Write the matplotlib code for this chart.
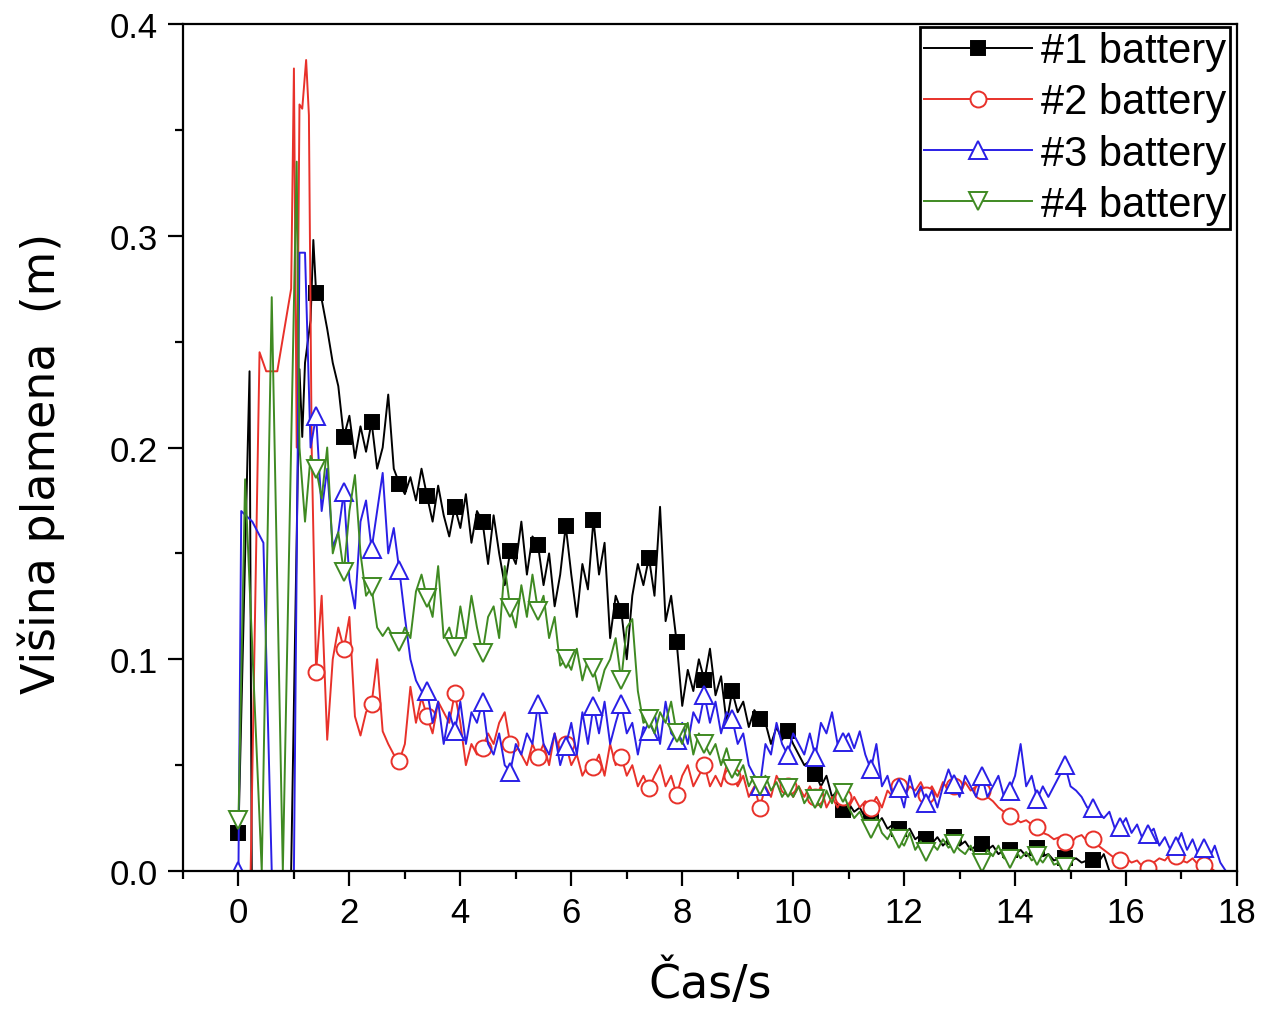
import numpy as np
import matplotlib
matplotlib.use("Agg")
import matplotlib.pyplot as plt
from matplotlib.ticker import MultipleLocator

# ---- data (time in s, flame height in m) ----
# sparse start of each record, then regular 0.1 s samples from 1.4 s on
b1_t0 = [0.0, 0.2, 0.24, 0.95, 1.1, 1.15, 1.2, 1.3, 1.35]
b1_v0 = [0.018, 0.236, 0.0, 0.0, 0.237, 0.205, 0.24, 0.26, 0.298]
b1_v = [
    0.273, 0.27, 0.256, 0.24, 0.229, 0.205, 0.215, 0.195, 0.21, 0.198,
    0.212, 0.19, 0.2, 0.225, 0.19, 0.183, 0.178, 0.186, 0.175, 0.19,
    0.177, 0.165, 0.182, 0.168, 0.158, 0.172, 0.162, 0.178, 0.155, 0.17,
    0.165, 0.145, 0.168, 0.15, 0.135, 0.151, 0.145, 0.165, 0.14, 0.158,
    0.154, 0.135, 0.15, 0.125, 0.14, 0.163, 0.14, 0.12, 0.145, 0.133,
    0.166, 0.14, 0.155, 0.11, 0.13, 0.123, 0.1, 0.13, 0.145, 0.135,
    0.148, 0.13, 0.172, 0.118, 0.13, 0.108, 0.078, 0.095, 0.085, 0.1,
    0.09, 0.105, 0.083, 0.092, 0.07, 0.085, 0.075, 0.08, 0.068, 0.076,
    0.072, 0.07, 0.06, 0.068, 0.062, 0.066, 0.06, 0.055, 0.05, 0.052,
    0.046, 0.04, 0.045, 0.035, 0.038, 0.029, 0.032, 0.028, 0.03, 0.025,
    0.028, 0.022, 0.025, 0.02, 0.022, 0.02, 0.018, 0.02, 0.015, 0.017,
    0.015, 0.013, 0.016, 0.012, 0.015, 0.016, 0.012, 0.014, 0.01, 0.012,
    0.013, 0.01, 0.012, 0.008, 0.01, 0.01, 0.008, 0.01, 0.007, 0.009,
    0.011, 0.007, 0.008, 0.005, 0.006, 0.006, 0.005, 0.006, 0.004, 0.005,
    0.005, 0.004, 0.008, 0.0,
]

b2_t0 = [0.0, 0.22, 0.38, 0.5, 0.7, 0.95, 1.0, 1.05, 1.1, 1.15, 1.22, 1.27, 1.32]
b2_v0 = [0.0, 0.0, 0.245, 0.236, 0.236, 0.275, 0.379, 0.2, 0.362, 0.36, 0.383, 0.357, 0.2]
b2_v = [
    0.094, 0.13, 0.062, 0.1, 0.115, 0.105, 0.12, 0.073, 0.064, 0.075,
    0.079, 0.1, 0.066, 0.06, 0.055, 0.052, 0.06, 0.087, 0.07, 0.082,
    0.073, 0.065, 0.08, 0.075, 0.07, 0.084, 0.07, 0.05, 0.06, 0.055,
    0.058, 0.065, 0.06, 0.07, 0.075, 0.06, 0.06, 0.055, 0.05, 0.06,
    0.054, 0.06, 0.05, 0.065, 0.055, 0.06, 0.05, 0.055, 0.045, 0.05,
    0.049, 0.055, 0.045, 0.06, 0.05, 0.054, 0.045, 0.05, 0.04, 0.045,
    0.039, 0.045, 0.05, 0.04, 0.045, 0.036, 0.045, 0.05, 0.04, 0.045,
    0.05, 0.04, 0.045, 0.04, 0.05, 0.045, 0.04, 0.045, 0.035, 0.04,
    0.03, 0.04, 0.035, 0.045, 0.04, 0.04, 0.035, 0.04, 0.035, 0.04,
    0.035, 0.04, 0.03, 0.035, 0.03, 0.035, 0.03, 0.035, 0.03, 0.033,
    0.03, 0.035, 0.03, 0.038, 0.035, 0.04, 0.035, 0.04, 0.038, 0.042,
    0.036, 0.04, 0.035, 0.042, 0.038, 0.04, 0.036, 0.042, 0.038, 0.04,
    0.038, 0.035, 0.033, 0.03, 0.028, 0.026, 0.025, 0.023, 0.024, 0.022,
    0.021, 0.018, 0.017, 0.015, 0.016, 0.0135, 0.013, 0.016, 0.017, 0.014,
    0.015, 0.012, 0.01, 0.008, 0.006, 0.005, 0.006, 0.004, 0.005, 0.002,
    0.0015, 0.004, 0.006, 0.005, 0.008, 0.007, 0.005, 0.004, 0.006, 0.003,
    0.003, 0.002, 0.0,
]

b3_t0 = [0.0, 0.05, 0.25, 0.45, 0.6, 1.0, 1.1, 1.2, 1.3]
b3_v0 = [0.0, 0.17, 0.165, 0.155, 0.0, 0.0, 0.292, 0.292, 0.2]
b3_v = [
    0.215, 0.17, 0.19, 0.153, 0.16, 0.179, 0.138, 0.124, 0.165, 0.175,
    0.152, 0.17, 0.188, 0.15, 0.162, 0.142, 0.12, 0.1, 0.09, 0.085,
    0.085, 0.07, 0.08, 0.06, 0.075, 0.066, 0.08, 0.06, 0.075, 0.07,
    0.08, 0.06, 0.055, 0.065, 0.05, 0.047, 0.06, 0.055, 0.065, 0.06,
    0.079, 0.06, 0.055, 0.065, 0.05, 0.059, 0.07, 0.055, 0.075, 0.06,
    0.078, 0.065, 0.08, 0.06, 0.07, 0.079, 0.065, 0.07, 0.055, 0.068,
    0.066, 0.075, 0.06, 0.08, 0.065, 0.062, 0.07, 0.06, 0.075, 0.07,
    0.083, 0.07, 0.08, 0.065, 0.075, 0.072, 0.06, 0.065, 0.05, 0.045,
    0.04, 0.06, 0.055, 0.07, 0.06, 0.055, 0.065, 0.06, 0.055, 0.065,
    0.054, 0.07, 0.065, 0.075, 0.06, 0.061, 0.065, 0.058, 0.066, 0.055,
    0.048, 0.06, 0.04, 0.045, 0.035, 0.039, 0.03, 0.045, 0.035, 0.04,
    0.032, 0.038, 0.03, 0.04, 0.048, 0.041, 0.035, 0.045, 0.04, 0.035,
    0.045, 0.035, 0.04, 0.045, 0.035, 0.038, 0.045, 0.06, 0.04, 0.045,
    0.034, 0.04, 0.035, 0.04, 0.045, 0.05, 0.04, 0.038, 0.035, 0.03,
    0.03, 0.028, 0.025, 0.028, 0.02, 0.021, 0.025, 0.018, 0.022, 0.015,
    0.0175, 0.02, 0.012, 0.016, 0.01, 0.012, 0.018, 0.01, 0.015, 0.008,
    0.011, 0.006, 0.012, 0.004, 0.0,
]

b4_t0 = [0.0, 0.12, 0.42, 0.6, 0.8, 1.05, 1.1, 1.2, 1.3]
b4_v0 = [0.024, 0.185, 0.0, 0.271, 0.0, 0.335, 0.2, 0.165, 0.196]
b4_v = [
    0.19, 0.176, 0.2, 0.15, 0.16, 0.141, 0.17, 0.187, 0.15, 0.13,
    0.134, 0.115, 0.111, 0.115, 0.11, 0.108, 0.115, 0.11, 0.132, 0.14,
    0.129, 0.12, 0.144, 0.11, 0.115, 0.106, 0.125, 0.11, 0.13, 0.115,
    0.103, 0.12, 0.125, 0.11, 0.144, 0.124, 0.115, 0.135, 0.12, 0.14,
    0.123, 0.13, 0.11, 0.12, 0.097, 0.1, 0.095, 0.105, 0.09, 0.1,
    0.096, 0.085, 0.095, 0.1, 0.11, 0.09, 0.115, 0.119, 0.085, 0.07,
    0.072, 0.065, 0.075, 0.07, 0.08, 0.065, 0.06, 0.07, 0.055, 0.065,
    0.06, 0.055, 0.06, 0.05, 0.058, 0.048, 0.045, 0.05, 0.04, 0.045,
    0.04, 0.045, 0.038, 0.042, 0.035, 0.039, 0.035, 0.04, 0.032, 0.036,
    0.034, 0.03, 0.038, 0.032, 0.04, 0.037, 0.03, 0.025, 0.028, 0.022,
    0.02, 0.025, 0.018, 0.015, 0.02, 0.015, 0.012, 0.018, 0.01, 0.014,
    0.009, 0.013, 0.01, 0.015, 0.011, 0.013, 0.01, 0.008, 0.012, 0.006,
    0.004, 0.01, 0.007, 0.012, 0.006, 0.0057, 0.01, 0.006, 0.009, 0.005,
    0.007, 0.004, 0.008, 0.003, 0.004, 0.002, 0.0,
]

labels = ["#1 battery", "#2 battery", "#3 battery", "#4 battery"]
colors = ["#000000", "#e8312a", "#2a1fe6", "#3f8a22"]


def build(t_early, v_early, v_main, t_start=1.4, dt=0.1):
    t_main = np.round(t_start + dt * np.arange(len(v_main)), 2)
    t = np.concatenate([t_early, t_main])
    v = np.concatenate([v_early, v_main])
    return t, v


fig = plt.figure(figsize=(12.76, 10.12), dpi=100)
ax = fig.add_axes([0.1434, 0.1383, 0.826, 0.837])

records = [
    (b1_t0, b1_v0, b1_v, True, dict(marker="s", mfc=colors[0], ms=10)),
    (b2_t0, b2_v0, b2_v, False, dict(marker="o", mfc="white", ms=11.5)),
    (b3_t0, b3_v0, b3_v, True, dict(marker="^", mfc="white", ms=12.5)),
    (b4_t0, b4_v0, b4_v, True, dict(marker="v", mfc="white", ms=12.5)),
]

for (te, ve, vm, mark0, mk), lab, col in zip(records, labels, colors):
    t, v = build(te, ve, vm)
    marks = ([0] if mark0 else []) + list(range(len(te), len(t), 5))
    ax.plot(t, v, color=col, lw=1.4, mec=col, mew=1.4,
            markevery=marks, label=lab, **mk)

ax.set_xlim(-1, 18)
ax.set_ylim(0, 0.4)
ax.xaxis.set_major_locator(MultipleLocator(2))
ax.xaxis.set_minor_locator(MultipleLocator(1))
ax.yaxis.set_major_locator(MultipleLocator(0.1))
ax.yaxis.set_minor_locator(MultipleLocator(0.05))

ax.tick_params(which="both", direction="out", top=False, right=False, width=1.6)
ax.tick_params(which="major", length=11, labelsize=25, pad=7)
ax.tick_params(which="minor", length=6)
for lab in ax.get_xticklabels() + ax.get_yticklabels():
    lab.set_fontfamily("Liberation Sans")
for sp in ax.spines.values():
    sp.set_linewidth(1.6)

ax.set_xlabel("Čas/s", fontsize=33, family="DejaVu Sans")
ax.set_ylabel("Višina plamena  (m)", fontsize=33, family="DejaVu Sans")
ax.xaxis.set_label_coords(0.5, -0.104)
ax.yaxis.set_label_coords(-0.112, 0.482)

leg = ax.legend(loc="upper right", bbox_to_anchor=(0.9934, 0.9965), borderaxespad=0,
                prop={"family": "Liberation Sans", "size": 30}, handlelength=2.6,
                handletextpad=0.2, labelspacing=0.27, borderpad=0.1,
                fancybox=False, edgecolor="black", framealpha=1)
leg.get_frame().set_linewidth(2)

fig.savefig("out.png", dpi=100)
